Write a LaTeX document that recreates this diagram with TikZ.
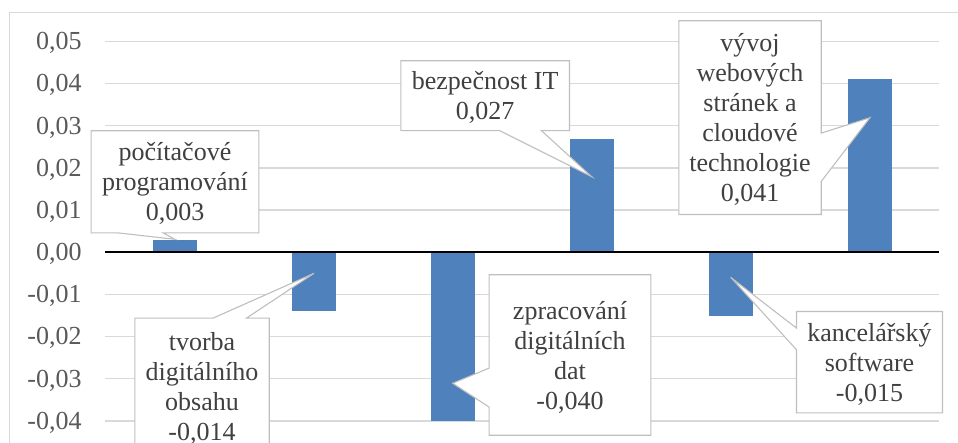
\documentclass[tikz,border=0pt]{standalone}
\usepackage{fontspec}
\setmainfont{Liberation Serif}
\newfontfamily\tnr{Liberation Serif}
\usetikzlibrary{calc}
\definecolor{barblue}{HTML}{4F81BD}
\definecolor{gridgray}{HTML}{D9D9D9}
\definecolor{callgray}{HTML}{BFBFBF}
\definecolor{labtext}{HTML}{404040}
\definecolor{axtext}{HTML}{595959}
\pgfdeclarelayer{bg}\pgfdeclarelayer{mid}\pgfsetlayers{bg,mid,main}
\newcommand\fstrut{\rule{0pt}{24pt}}
\newcommand\lstrut{\rule[-6pt]{0pt}{6pt}}
\begin{document}
\begin{tikzpicture}[x=1pt,y=-1pt,
  bigfont/.style={font=\tnr\fontsize{26}{30}\selectfont},
  callbox/.style={bigfont, text=labtext, align=center, inner sep=0pt},
  callshape/.style={draw=callgray, fill=white, line width=1.1pt, line join=miter},
  axlabel/.style={bigfont, text=axtext, anchor=base east, inner sep=0pt},
  gridline/.style={draw=gridgray, line width=1.3pt},
  bar/.style={fill=barblue}]
\useasboundingbox (0,0) rectangle (958,443);
\begin{pgfonlayer}{bg}
  \draw[draw=gridgray, line width=1pt] (9.5,460) -- (9.5,12.7) -- (958,12.7);
  \foreach \k in {-4,...,5}
    \draw[gridline] (105.3,{252.3-\k*42.15}) -- (939.3,{252.3-\k*42.15});
  \foreach \c/\v in {174.8/0.003, 313.8/-0.014, 452.8/-0.040, 591.8/0.027, 730.8/-0.015, 869.8/0.041}
    \fill[bar] ({\c-21.85},252.3) rectangle ({\c+21.85},{252.3-\v*4215});
  \draw[black, line width=1.6pt] (105.3,252.3) -- (939.3,252.3);
\end{pgfonlayer}
% axis labels
\foreach \k/\t in {5/{0,05},4/{0,04},3/{0,03},2/{0,02},1/{0,01},0/{0,00},-1/{-0,01},-2/{-0,02},-3/{-0,03},-4/{-0,04}}
  \node[axlabel] (yl\k) at (81.7,{252.3-\k*42.15+8.3}) {\t};
% pointer tips
\coordinate (p1) at (175,239.3);
\coordinate (p2) at (314,273.3);
\coordinate (p3) at (591.7,176.7);
\coordinate (p4) at (452.7,383.3);
\coordinate (p5) at (870,117.7);
\coordinate (p6) at (730.7,277.3);
% callout texts
\node[callbox, minimum width=167.4pt, minimum height=101.7pt] (c1) at (175,181.85)
  {\fstrut počítačové\\ programování\\ 0,003\lstrut};
\node[callbox, minimum width=134pt, minimum height=135.4pt] (c2) at (202,386)
  {\fstrut tvorba\\ digitálního\\ obsahu\\ -0,014\lstrut};
\node[callbox, minimum width=168.3pt, minimum height=69.5pt] (c3) at (485.15,95.75)
  {\fstrut bezpečnost IT\\ 0,027\lstrut};
\node[callbox, minimum width=161.4pt, minimum height=160pt] (c4) at (570,355)
  {\fstrut zpracování\\ digitálních\\ dat\\ -0,040\lstrut};
\node[callbox, minimum width=142pt, minimum height=193.3pt] (c5) at (750,117.65)
  {\fstrut vývoj\\ webových\\ stránek a\\ cloudové\\ technologie\\ 0,041\lstrut};
\node[callbox, minimum width=145.6pt, minimum height=101pt] (c6) at (869.5,362.2)
  {\fstrut kancelářský\\ software\\ -0,015\lstrut};
% callout outlines
\begin{pgfonlayer}{mid}
  \path[callshape] (c1.north west) -- (c1.north east) -- (c1.south east)
    -- ([xshift=72pt]c1.south west) -- (p1) -- ([xshift=27pt]c1.south west) -- (c1.south west) -- cycle;
  \path[callshape] (c2.north west) -- ([xshift=78.3pt]c2.north west) -- (p2)
    -- ([xshift=111.7pt]c2.north west) -- (c2.north east) -- (c2.south east) -- (c2.south west) -- cycle;
  \path[callshape] (c3.north west) -- (c3.north east) -- (c3.south east)
    -- ([xshift=140.7pt]c3.south west) -- (p3) -- ([xshift=99pt]c3.south west) -- (c3.south west) -- cycle;
  \path[callshape] (c4.north west) -- (c4.north east) -- (c4.south east) -- (c4.south west)
    -- ([yshift=-132.3pt]c4.north west) -- (p4) -- ([yshift=-93.3pt]c4.north west) -- cycle;
  \path[callshape] (c5.north west) -- (c5.north east) -- ([yshift=-112.3pt]c5.north east) -- (p5)
    -- ([yshift=-160.7pt]c5.north east) -- (c5.south east) -- (c5.south west) -- cycle;
  \path[callshape] (c6.north west) -- (c6.north east) -- (c6.south east) -- (c6.south west)
    -- ([yshift=-38.3pt]c6.north west) -- (p6) -- ([yshift=-16.6pt]c6.north west) -- cycle;
\end{pgfonlayer}
\end{tikzpicture}
\end{document}
